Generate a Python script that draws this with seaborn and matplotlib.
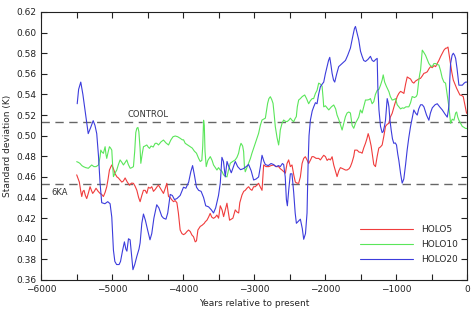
#!/usr/bin/env python3

import matplotlib
matplotlib.use("Agg")
import matplotlib.pyplot as plt
import numpy as np
import pandas
import seaborn as sns
from matplotlib.ticker import MultipleLocator

# HOLO20 (blue)
holo20_years = [
    -5490, -5470, -5440, -5410, -5380, -5335, -5300, -5265, -5240, -5215, -5190, -5168,
    -5145, -5100, -5060, -5027, -5003, -4980, -4960, -4935, -4900, -4880, -4850, -4825,
    -4805, -4790, -4768, -4745, -4725, -4705, -4680, -4650, -4620, -4604, -4580, -4557,
    -4530, -4500, -4465, -4440, -4410, -4370, -4340, -4300, -4275, -4240, -4215, -4180,
    -4150, -4120, -4086, -4040, -3993, -3960, -3920, -3890, -3865, -3840, -3810, -3780,
    -3745, -3710, -3680, -3640, -3600, -3570, -3540, -3500, -3475, -3452, -3430, -3405,
    -3380, -3355, -3320, -3290, -3264, -3230, -3190, -3150, -3110, -3076, -3040, -3005,
    -2970, -2935, -2910, -2887, -2860, -2840, -2800, -2760, -2724, -2690, -2655, -2630,
    -2600, -2582, -2560, -2544, -2530, -2510, -2488, -2465, -2441, -2420, -2403, -2375,
    -2347, -2320, -2300, -2275, -2253, -2239, -2225, -2206, -2180, -2159, -2135, -2112,
    -2090, -2065, -2040, -2018, -1995, -1970, -1950, -1933, -1915, -1900, -1880, -1863,
    -1835, -1807, -1760, -1712, -1680, -1642, -1610, -1585, -1571, -1550, -1525, -1500,
    -1477, -1455, -1430, -1395, -1360, -1335, -1313, -1285, -1265, -1256, -1240, -1218,
    -1195, -1180, -1160, -1148, -1124, -1110, -1100, -1085, -1068, -1050, -1031, -1010,
    -993, -975, -960, -935, -913, -890, -865, -843, -820, -795, -770, -749,
    -725, -701, -680, -654, -630, -607, -570, -537, -515, -489, -450, -419,
    -385, -348, -310, -278, -262, -254, -242, -231, -210, -193, -175, -160,
    -140, -114, -90, -66, -40, -20, 0,
]
holo20_std = [
    0.531, 0.545, 0.552, 0.540, 0.525, 0.502, 0.508, 0.5146, 0.510, 0.502, 0.480, 0.454,
    0.435, 0.434, 0.436, 0.434, 0.421, 0.389, 0.378, 0.375, 0.375, 0.378, 0.389, 0.397,
    0.390, 0.388, 0.400, 0.399, 0.385, 0.370, 0.375, 0.383, 0.390, 0.396, 0.415, 0.424,
    0.418, 0.409, 0.399, 0.405, 0.420, 0.433, 0.430, 0.422, 0.420, 0.419, 0.425, 0.443,
    0.442, 0.438, 0.439, 0.442, 0.450, 0.449, 0.455, 0.465, 0.471, 0.462, 0.450, 0.447,
    0.446, 0.440, 0.432, 0.431, 0.428, 0.425, 0.430, 0.442, 0.454, 0.479, 0.475, 0.460,
    0.475, 0.470, 0.464, 0.470, 0.475, 0.470, 0.467, 0.468, 0.470, 0.472, 0.466, 0.457,
    0.458, 0.460, 0.470, 0.481, 0.475, 0.472, 0.471, 0.473, 0.472, 0.470, 0.471, 0.470,
    0.473, 0.472, 0.460, 0.438, 0.432, 0.448, 0.463, 0.463, 0.445, 0.425, 0.415, 0.417,
    0.419, 0.410, 0.3995, 0.405, 0.425, 0.470, 0.500, 0.515, 0.524, 0.528, 0.532, 0.531,
    0.540, 0.5475, 0.550, 0.552, 0.560, 0.567, 0.573, 0.576, 0.568, 0.5605, 0.554, 0.552,
    0.560, 0.567, 0.570, 0.573, 0.578, 0.585, 0.596, 0.604, 0.606, 0.600, 0.593, 0.582,
    0.577, 0.573, 0.572, 0.574, 0.577, 0.573, 0.572, 0.574, 0.575, 0.5475, 0.525, 0.509,
    0.503, 0.504, 0.510, 0.515, 0.536, 0.532, 0.528, 0.515, 0.5055, 0.497, 0.4926, 0.493,
    0.491, 0.482, 0.476, 0.463, 0.454, 0.458, 0.472, 0.486, 0.498, 0.509, 0.518, 0.525,
    0.522, 0.520, 0.526, 0.530, 0.530, 0.528, 0.520, 0.515, 0.522, 0.527, 0.530, 0.531,
    0.528, 0.525, 0.521, 0.518, 0.525, 0.530, 0.555, 0.570, 0.578, 0.580, 0.578, 0.575,
    0.565, 0.549, 0.549, 0.549, 0.551, 0.552, 0.552,
]

# HOLO5 (red)
holo5_years = [
    -5497, -5475, -5460, -5440, -5426, -5410, -5394, -5375, -5356, -5330, -5309, -5290,
    -5272, -5250, -5225, -5195, -5168, -5145, -5121, -5097, -5074, -5055, -5036, -5015,
    -5003, -4980, -4956, -4930, -4910, -4885, -4862, -4840, -4815, -4785, -4754, -4725,
    -4698, -4675, -4650, -4625, -4604, -4580, -4557, -4533, -4510, -4487, -4463, -4440,
    -4416, -4390, -4360, -4345, -4310, -4275, -4250, -4228, -4204, -4180, -4160, -4134,
    -4110, -4086, -4065, -4040, -4015, -3992, -3969, -3945, -3922, -3898, -3875, -3852,
    -3828, -3810, -3790, -3757, -3733, -3700, -3686, -3663, -3640, -3617, -3595, -3570,
    -3545, -3523, -3499, -3475, -3450, -3428, -3405, -3381, -3360, -3344, -3320, -3297,
    -3280, -3264, -3240, -3216, -3200, -3169, -3145, -3123, -3100, -3076, -3050, -3029,
    -3005, -2982, -2960, -2935, -2910, -2887, -2875, -2864, -2830, -2793, -2760, -2724,
    -2690, -2653, -2630, -2606, -2580, -2558, -2535, -2512, -2488, -2465, -2440, -2418,
    -2395, -2371, -2347, -2323, -2300, -2277, -2253, -2230, -2200, -2183, -2160, -2125,
    -2089, -2065, -2040, -2018, -1994, -1970, -1947, -1924, -1900, -1877, -1850, -1830,
    -1805, -1783, -1750, -1712, -1689, -1660, -1642, -1620, -1595, -1581, -1548, -1520,
    -1501, -1477, -1455, -1430, -1410, -1392, -1375, -1350, -1336, -1313, -1289, -1265,
    -1242, -1220, -1195, -1170, -1148, -1125, -1101, -1080, -1054, -1020, -983, -960,
    -936, -910, -889, -865, -842, -820, -795, -770, -749, -725, -701, -680,
    -654, -630, -607, -585, -560, -535, -513, -490, -465, -442, -420, -396,
    -370, -348, -325, -302, -285, -268, -255, -240, -215, -193, -170, -146,
    -125, -100, -75, -53, -30, -6,
]
holo5_std = [
    0.462, 0.458, 0.455, 0.446, 0.441, 0.446, 0.447, 0.442, 0.439, 0.445, 0.4505, 0.447,
    0.444, 0.446, 0.449, 0.446, 0.444, 0.443, 0.441, 0.445, 0.4505, 0.458, 0.4667, 0.470,
    0.4716, 0.468, 0.463, 0.460, 0.459, 0.457, 0.455, 0.456, 0.459, 0.455, 0.452, 0.454,
    0.4538, 0.451, 0.447, 0.440, 0.436, 0.442, 0.447, 0.447, 0.444, 0.450, 0.449, 0.4505,
    0.446, 0.448, 0.451, 0.452, 0.448, 0.444, 0.449, 0.4538, 0.441, 0.440, 0.438, 0.436,
    0.437, 0.435, 0.425, 0.4085, 0.405, 0.404, 0.405, 0.407, 0.4085, 0.407, 0.4037, 0.402,
    0.397, 0.398, 0.4085, 0.412, 0.413, 0.415, 0.4165, 0.418, 0.421, 0.4246, 0.421, 0.4198,
    0.421, 0.423, 0.420, 0.432, 0.428, 0.4215, 0.428, 0.4345, 0.425, 0.418, 0.419, 0.420,
    0.424, 0.428, 0.426, 0.425, 0.435, 0.4425, 0.446, 0.447, 0.449, 0.4505, 0.448, 0.447,
    0.4505, 0.4505, 0.452, 0.4538, 0.450, 0.447, 0.460, 0.4716, 0.470, 0.470, 0.471, 0.4716,
    0.470, 0.470, 0.468, 0.4667, 0.465, 0.4636, 0.473, 0.4765, 0.470, 0.4716, 0.462, 0.455,
    0.454, 0.4538, 0.460, 0.473, 0.478, 0.4796, 0.4765, 0.473, 0.477, 0.4797, 0.4796, 0.478,
    0.478, 0.4765, 0.479, 0.481, 0.4797, 0.476, 0.4775, 0.4765, 0.4796, 0.4716, 0.465, 0.4603,
    0.466, 0.469, 0.468, 0.4667, 0.4667, 0.468, 0.470, 0.474, 0.480, 0.486, 0.486, 0.484,
    0.484, 0.483, 0.488, 0.4926, 0.497, 0.502, 0.498, 0.490, 0.483, 0.472, 0.470, 0.480,
    0.488, 0.489, 0.491, 0.500, 0.509, 0.511, 0.512, 0.518, 0.5217, 0.530, 0.538, 0.541,
    0.543, 0.542, 0.541, 0.550, 0.557, 0.556, 0.555, 0.552, 0.551, 0.553, 0.554, 0.555,
    0.5557, 0.558, 0.5605, 0.561, 0.562, 0.565, 0.567, 0.566, 0.568, 0.567, 0.570, 0.573,
    0.577, 0.580, 0.583, 0.5848, 0.585, 0.586, 0.580, 0.573, 0.562, 0.554, 0.550, 0.546,
    0.543, 0.5395, 0.539, 0.538, 0.530, 0.5217,
]

# HOLO10 (green)
holo10_years = [
    -5497, -5470, -5450, -5425, -5403, -5370, -5333, -5310, -5286, -5255, -5225, -5190,
    -5168, -5158, -5140, -5121, -5097, -5085, -5074, -5055, -5036, -5020, -5003, -4990,
    -4980, -4955, -4933, -4910, -4886, -4860, -4839, -4815, -4792, -4770, -4744, -4720,
    -4698, -4680, -4665, -4650, -4635, -4622, -4605, -4594, -4575, -4557, -4535, -4510,
    -4490, -4472, -4450, -4420, -4392, -4369, -4345, -4310, -4275, -4240, -4204, -4170,
    -4140, -4110, -4075, -4040, -4010, -3992, -3969, -3935, -3898, -3870, -3840, -3810,
    -3780, -3757, -3735, -3722, -3710, -3700, -3690, -3673, -3650, -3616, -3590, -3570,
    -3545, -3522, -3500, -3475, -3452, -3428, -3405, -3381, -3358, -3334, -3300, -3264,
    -3240, -3217, -3200, -3183, -3160, -3146, -3135, -3123, -3100, -3076, -3050, -3029,
    -3005, -2982, -2960, -2935, -2911, -2887, -2865, -2840, -2825, -2808, -2790, -2770,
    -2750, -2732, -2715, -2700, -2675, -2653, -2640, -2630, -2605, -2583, -2560, -2535,
    -2510, -2488, -2465, -2441, -2418, -2404, -2390, -2371, -2347, -2320, -2286, -2260,
    -2230, -2206, -2180, -2160, -2135, -2112, -2089, -2065, -2041, -2025, -2018, -1994,
    -1970, -1947, -1910, -1877, -1850, -1830, -1807, -1780, -1759, -1735, -1712, -1689,
    -1665, -1642, -1618, -1595, -1571, -1548, -1525, -1501, -1477, -1455, -1430, -1407,
    -1380, -1360, -1336, -1313, -1290, -1265, -1240, -1218, -1195, -1180, -1160, -1133,
    -1110, -1100, -1080, -1054, -1030, -1007, -983, -960, -936, -910, -889, -860,
    -842, -819, -795, -772, -740, -715, -701, -680, -665, -654, -640, -630,
    -610, -584, -560, -537, -515, -490, -466, -443, -420, -396, -372, -349,
    -325, -302, -280, -255, -240, -231, -208, -184, -160, -146, -130, -114,
    -90, -66, -40, -20, 0,
]
holo10_std = [
    0.4748, 0.474, 0.473, 0.471, 0.470, 0.469, 0.4684, 0.470, 0.4716, 0.470, 0.470, 0.4716,
    0.4796, 0.486, 0.484, 0.4829, 0.4893, 0.482, 0.478, 0.484, 0.4893, 0.488, 0.486, 0.470,
    0.4603, 0.464, 0.4667, 0.472, 0.4765, 0.474, 0.4716, 0.474, 0.4765, 0.472, 0.4684, 0.469,
    0.470, 0.485, 0.503, 0.5072, 0.508, 0.504, 0.488, 0.4732, 0.482, 0.4893, 0.490, 0.491,
    0.489, 0.4877, 0.490, 0.489, 0.4926, 0.4926, 0.491, 0.494, 0.4958, 0.493, 0.491, 0.496,
    0.499, 0.4997, 0.499, 0.4975, 0.496, 0.496, 0.4926, 0.491, 0.4893, 0.488, 0.485, 0.483,
    0.478, 0.475, 0.476, 0.490, 0.515, 0.510, 0.485, 0.470, 0.476, 0.4797, 0.476, 0.4716,
    0.469, 0.4667, 0.469, 0.4667, 0.4655, 0.4619, 0.461, 0.460, 0.467, 0.4733, 0.475, 0.4765,
    0.479, 0.483, 0.489, 0.4926, 0.490, 0.4845, 0.470, 0.465, 0.469, 0.4733, 0.478, 0.483,
    0.488, 0.4926, 0.497, 0.5023, 0.510, 0.5152, 0.516, 0.517, 0.524, 0.5314, 0.536, 0.5378,
    0.535, 0.5314, 0.520, 0.5088, 0.498, 0.491, 0.498, 0.5055, 0.512, 0.5152, 0.514, 0.5136,
    0.515, 0.517, 0.515, 0.5136, 0.517, 0.5185, 0.528, 0.5346, 0.536, 0.538, 0.5395, 0.536,
    0.531, 0.534, 0.536, 0.536, 0.541, 0.544, 0.551, 0.550, 0.548, 0.535, 0.528, 0.529,
    0.527, 0.525, 0.528, 0.5298, 0.526, 0.520, 0.516, 0.510, 0.5055, 0.512, 0.5185, 0.522,
    0.523, 0.522, 0.510, 0.5072, 0.512, 0.515, 0.518, 0.525, 0.522, 0.528, 0.5346, 0.5346,
    0.535, 0.536, 0.531, 0.533, 0.540, 0.544, 0.545, 0.549, 0.554, 0.559, 0.552, 0.5475,
    0.544, 0.5427, 0.538, 0.5346, 0.535, 0.536, 0.530, 0.528, 0.526, 0.527, 0.5266, 0.528,
    0.528, 0.528, 0.532, 0.538, 0.537, 0.538, 0.540, 0.553, 0.560, 0.5637, 0.575, 0.583,
    0.581, 0.578, 0.574, 0.570, 0.568, 0.567, 0.570, 0.570, 0.569, 0.5686, 0.563, 0.556,
    0.552, 0.551, 0.540, 0.528, 0.518, 0.512, 0.516, 0.515, 0.522, 0.523, 0.518, 0.515,
    0.512, 0.509, 0.508, 0.507, 0.507,
]

series_names = ["HOLO5", "HOLO10", "HOLO20"]
series_colors = ["#f03c3c", "#5ae65a", "#3c3cdc"]

control_level = 0.5133
sixka_level = 0.4531

y_ticks = [0.36, 0.38, 0.40, 0.42, 0.44, 0.46, 0.48, 0.50, 0.52, 0.54, 0.56, 0.58, 0.60, 0.62]


def build_frame():
    frames = []
    for name, yrs, vals in [
        ("HOLO5", holo5_years, holo5_std),
        ("HOLO10", holo10_years, holo10_std),
        ("HOLO20", holo20_years, holo20_std),
    ]:
        frames.append(pandas.DataFrame({"year": yrs, "std": vals, "run": name}))
    return pandas.concat(frames, ignore_index=True)


def main():
    sns.set_style("ticks")
    plt.rcParams["font.family"] = ["DejaVu Sans"]
    plt.rcParams["xtick.direction"] = "in"
    plt.rcParams["ytick.direction"] = "in"

    df = build_frame()

    fig = plt.figure(figsize=(4.77, 3.14), dpi=100)
    ax = fig.add_axes([41 / 477, 1 - 280 / 314, (467 - 41) / 477, (280 - 12) / 314])

    ax.axhline(control_level, color="#666666", lw=1.0, ls=(0, (6, 4)), zorder=1)
    ax.axhline(sixka_level, color="#666666", lw=1.0, ls=(0, (6, 4)), zorder=1)

    sns.lineplot(
        data=df, x="year", y="std", hue="run", hue_order=series_names,
        palette=dict(zip(series_names, series_colors)),
        linewidth=0.8, sort=False, estimator=None, ax=ax, legend=False, zorder=2,
    )

    ax.text(-4490, control_level + 0.003, "CONTROL", fontsize=6, color="#333333",
            ha="center", va="bottom")
    ax.text(-5850, sixka_level - 0.004, "6KA", fontsize=6, color="#333333",
            ha="left", va="top")

    ax.set_xlim(-6000, 0)
    ax.set_ylim(0.36, 0.62)
    ax.xaxis.set_major_locator(MultipleLocator(1000))
    ax.xaxis.set_minor_locator(MultipleLocator(500))
    ax.set_yticks(y_ticks)
    ax.set_yticklabels(["{:.2f}".format(v) for v in y_ticks])
    ax.tick_params(which="both", top=True, right=True, length=4, width=0.8,
                   labelsize=6.5, colors="#222222")

    for side in ["top", "right", "bottom", "left"]:
        ax.spines[side].set_visible(True)
        ax.spines[side].set_linewidth(0.8)
        ax.spines[side].set_color("#222222")

    ax.set_xlabel("Years relative to present", fontsize=6.5, labelpad=4)
    ax.set_ylabel("Standard deviation (K)", fontsize=6.5, labelpad=3)

    handles = [plt.Line2D([], [], color=c, lw=0.8) for c in series_colors]
    ax.legend(handles, series_names, loc="lower right", frameon=False, fontsize=6.5,
              handlelength=5.9, handletextpad=0.9, labelspacing=0.65,
              bbox_to_anchor=(0.998, 0.03))

    fig.savefig("out.png", dpi=100)


if __name__ == "__main__":
    main()
